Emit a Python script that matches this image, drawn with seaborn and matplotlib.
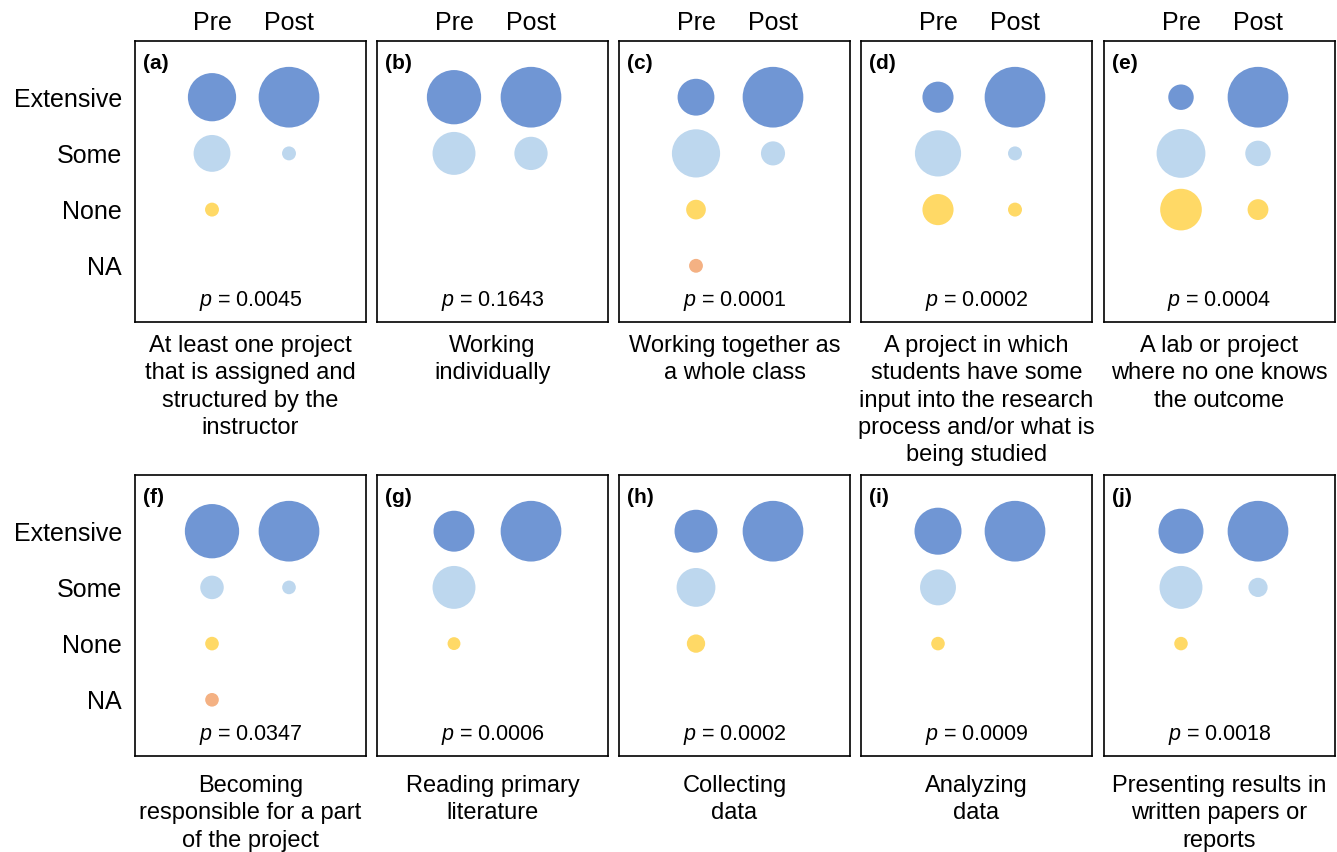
import numpy as np
import pandas as pd
import matplotlib
matplotlib.use("Agg")
import matplotlib.pyplot as plt
import seaborn as sns

# Response levels (rows) and survey timepoints (columns)
levels = ["Extensive", "Some", "None", "NA"]
timepoints = ["Pre", "Post"]

panel_letters = ["a", "b", "c", "d", "e", "f", "g", "h", "i", "j"]
p_values = ["0.0045", "0.1643", "0.0001", "0.0002", "0.0004",
            "0.0347", "0.0006", "0.0002", "0.0009", "0.0018"]

captions = [
    "At least one project\nthat is assigned and\nstructured by the\ninstructor",
    "Working\nindividually",
    "Working together as\na whole class",
    "A project in which\nstudents have some\ninput into the research\nprocess and/or what is\nbeing studied",
    "A lab or project\nwhere no one knows\nthe outcome",
    "Becoming\nresponsible for a part\nof the project",
    "Reading primary\nliterature",
    "Collecting\ndata",
    "Analyzing\ndata",
    "Presenting results in\nwritten papers or\nreports",
]

# Percent of respondents per level: [Extensive, Some, None, NA]
pre_pct = [
    [60.0, 35.0, 5.0, 0.0],
    [61.5, 38.5, 0.0, 0.0],
    [31.8, 54.5, 9.1, 4.5],
    [23.8, 52.4, 23.8, 0.0],
    [13.6, 50.0, 36.4, 0.0],
    [76.2, 14.3, 4.8, 4.8],
    [45.5, 50.0, 4.5, 0.0],
    [50.0, 40.9, 9.1, 0.0],
    [60.0, 35.0, 5.0, 0.0],
    [50.0, 45.5, 4.5, 0.0],
]
post_pct = [
    [95.0, 5.0, 0.0, 0.0],
    [76.9, 23.1, 0.0, 0.0],
    [86.4, 13.6, 0.0, 0.0],
    [90.5, 4.8, 4.8, 0.0],
    [77.3, 13.6, 9.1, 0.0],
    [95.2, 4.8, 0.0, 0.0],
    [100.0, 0.0, 0.0, 0.0],
    [100.0, 0.0, 0.0, 0.0],
    [100.0, 0.0, 0.0, 0.0],
    [90.9, 9.1, 0.0, 0.0],
]

level_colors = ["#7096D4", "#BDD7EE", "#FFD966", "#F4B183"]

# Long-form table, one row per bubble
records = []
for k in range(len(panel_letters)):
    for t, series in enumerate([pre_pct[k], post_pct[k]]):
        for j, val in enumerate(series):
            if val > 0:
                records.append({"panel": k, "time": timepoints[t], "x": t,
                                "level": levels[j], "y": j, "pct": val})
df = pd.DataFrame(records)

sns.set_theme(style="white")
plt.rcParams["font.family"] = ["Liberation Sans", "DejaVu Sans"]
plt.rcParams["mathtext.fontset"] = "custom"
plt.rcParams["mathtext.rm"] = "Liberation Sans"
plt.rcParams["mathtext.it"] = "Liberation Sans:italic"
plt.rcParams["text.color"] = "black"
plt.rcParams["xtick.color"] = "black"
plt.rcParams["ytick.color"] = "black"

W, H = 1337, 852
fig = plt.figure(figsize=(W / 100, H / 100), dpi=100)
fig.patch.set_facecolor("white")

col_left = [135, 377, 619, 861, 1104]
row_top = [41, 475]
pw, ph = 231, 281
caption_gap = [13, 19]
smax = (60.7 * 0.72) ** 2
palette = dict(zip(levels, level_colors))

for k in range(len(panel_letters)):
    r, c = divmod(k, 5)
    ax = fig.add_axes([col_left[c] / W, 1 - (row_top[r] + ph) / H, pw / W, ph / H])
    sub = df[df["panel"] == k]
    sns.scatterplot(data=sub, x="x", y="y", hue="level", hue_order=levels,
                    palette=palette, size="pct", sizes=(0, smax),
                    size_norm=(0, sub["pct"].max()), linewidth=0,
                    legend=False, ax=ax)
    ax.set_xlim(-1, 2)
    ax.set_ylim(4, -1)
    ax.set_xlabel("")
    ax.set_ylabel("")

    if r == 0:
        ax.set_xticks(range(len(timepoints)))
        ax.set_xticklabels(timepoints, fontsize=18, color="black")
        ax.tick_params(axis="x", length=0, pad=4, top=True, labeltop=True,
                       bottom=False, labelbottom=False)
    else:
        ax.set_xticks([])

    if c == 0:
        ax.set_yticks(range(len(levels)))
        ax.set_yticklabels(levels, fontsize=18, color="black")
        ax.tick_params(axis="y", length=0, pad=9.5)
    else:
        ax.set_yticks([])

    for s in ax.spines.values():
        s.set_visible(True)
        s.set_color("black")
        s.set_linewidth(1.2)

    ax.text(0.035, 0.952, f"({panel_letters[k]})", transform=ax.transAxes,
            ha="left", va="top", fontsize=15, fontweight="bold", color="black")
    ax.text(0.5, 0.073, r"$\mathit{p}$ = " + p_values[k], transform=ax.transAxes,
            ha="center", va="center", fontsize=15.5, color="black")

    fig.text((col_left[c] + pw / 2) / W,
             1 - (row_top[r] + ph + caption_gap[r]) / H,
             captions[k], ha="center", va="top", fontsize=17,
             linespacing=1.31, color="black")

fig.savefig("out.png", dpi=100, facecolor="white")
